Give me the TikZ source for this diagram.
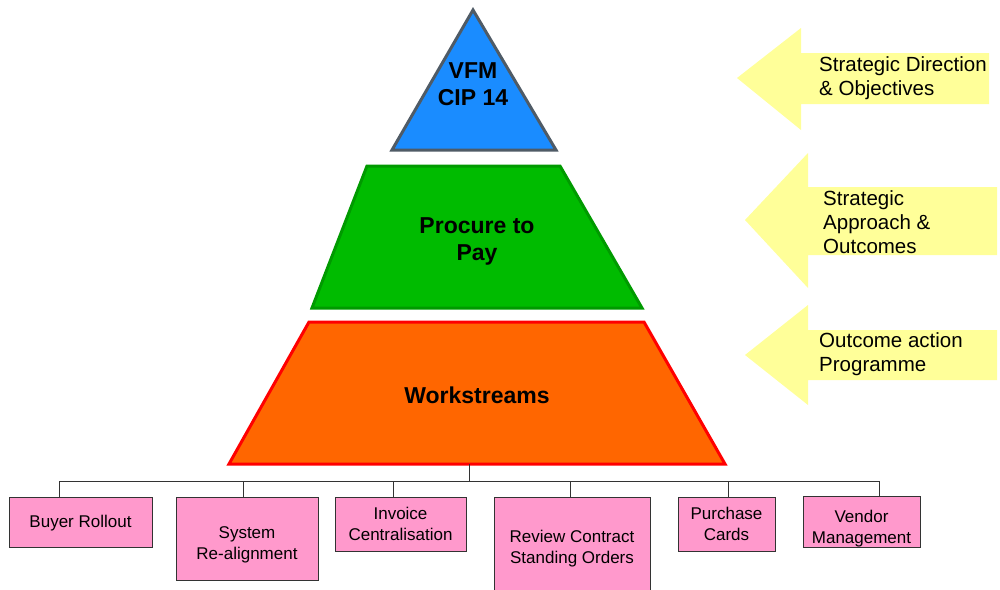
\documentclass[tikz,border=0pt]{standalone}
\usepackage{fontspec}
\setmainfont{Liberation Sans}
\usetikzlibrary{positioning, calc}

\definecolor{vfmblue}{HTML}{1A8CFF}
\definecolor{vfmedge}{HTML}{4F5B66}
\definecolor{ptpgreen}{HTML}{00BB00}
\definecolor{ptpedge}{HTML}{009A00}
\definecolor{wsorange}{HTML}{FF6600}
\definecolor{wsedge}{HTML}{FF0000}
\definecolor{wspink}{HTML}{FF99CC}
\definecolor{hintyellow}{HTML}{FFFF99}
\definecolor{boxline}{HTML}{333333}

\begin{document}
\begin{tikzpicture}[
    x=1pt, y=-1pt,
    tier/.style={line width=3pt, line join=miter},
    tiertext/.style={font=\fontsize{23}{27}\selectfont\bfseries, align=center},
    hint/.style={fill=hintyellow},
    hinttext/.style={font=\fontsize{20.5}{24}\selectfont, align=left, anchor=west, inner sep=0pt},
    stream/.style={draw=boxline, fill=wspink, line width=1pt, inner sep=0pt,
        font=\fontsize{17}{21}\selectfont, align=center},
    bus/.style={draw=black!80, line width=1pt},
]
\useasboundingbox (0,0) rectangle (1000,589);

% pyramid
\draw[tier, draw=vfmedge, fill=vfmblue] (473,10) -- (556,150) -- (392,150) -- cycle;
\draw[tier, draw=ptpedge, fill=ptpgreen] (367,166) -- (560,166) -- (642,308) -- (312,308) -- cycle;
\draw[tier, draw=wsedge, fill=wsorange] (309,322) -- (644,322) -- (725,464) -- (229,464) -- cycle;

\node[tiertext] (vfm) at (473,84) {VFM\\CIP 14};
\node[tiertext] (ptp) at (477,241) {Procure to\\Pay};
\node[tiertext] (ws) at (477,395) {Workstreams};

% arrows on the right
\fill[hint] (737,78) -- (801,28) -- (801,53) -- (989,53) -- (989,104) -- (801,104) -- (801,130) -- cycle;
\fill[hint] (745,220) -- (808,153) -- (808,187) -- (997,187) -- (997,255) -- (808,255) -- (808,288) -- cycle;
\fill[hint] (745,355) -- (808,305) -- (808,330) -- (997,330) -- (997,380) -- (808,380) -- (808,405) -- cycle;

\node[hinttext] (direction) at (819,78) {Strategic Direction\\\& Objectives};
\node[hinttext] (approach) at (823,222) {Strategic\\Approach \&\\Outcomes};
\node[hinttext] (programme) at (819,354) {Outcome action\\Programme};

% workstreams
\node[stream, minimum width=143, minimum height=50, text height=15] (buyer) at (80.5,522) {Buyer Rollout};
\node[stream, minimum width=142, minimum height=83, text height=45] (system) at (247,538.5) {System\\Re-alignment};
\node[stream, minimum width=131, minimum height=54] (invoice) at (400.5,524) {Invoice\\Centralisation};
\node[stream, minimum width=156, minimum height=98, text height=39] (review) at (572,546) {Review Contract\\Standing Orders};
\node[stream, minimum width=97, minimum height=54] (cards) at (726.5,524) {Purchase\\Cards};
\node[stream, minimum width=117, minimum height=50, text height=47] (vendor) at (861.5,522) {Vendor\\Management};

\coordinate (wsbase) at (469,464);
\coordinate (busL) at (59,481);
\coordinate (busR) at (879,481);
\draw[bus] (wsbase) -- (wsbase |- busL);
\draw[bus] (busL) -- (busR);
\foreach \name/\x in {buyer/59, system/243, invoice/393, review/570, cards/728, vendor/879} {
    \coordinate (tap) at (\x,481);
    \draw[bus] (tap) -- (tap |- \name.north);
}
\end{tikzpicture}
\end{document}
